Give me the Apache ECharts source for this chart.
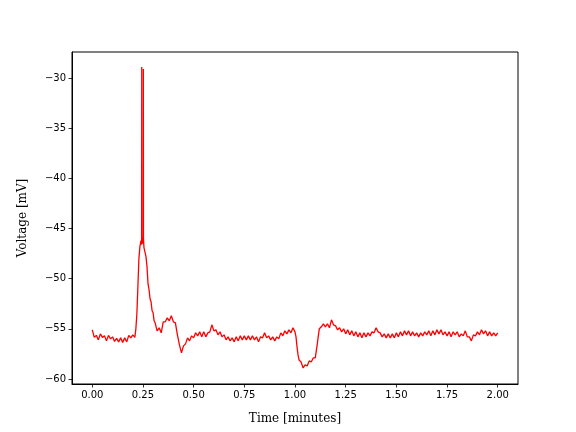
<!DOCTYPE html>
<html>
<head>
<meta charset="utf-8">
<script src="https://cdn.jsdelivr.net/npm/echarts@6/dist/echarts.min.js"></script>
<style>
html,body{margin:0;padding:0;background:#fff;}
#chart{width:576px;height:432px;}
</style>
</head>
<body>
<div id="chart"></div>
<script>
// Time in minutes
const timeMin = [
0.00,0.01,0.02,0.03,0.04,0.05,0.06,0.07,0.08,0.09,0.10,0.11,0.12,0.13,0.14,0.15,0.16,0.17,0.18,0.19,0.20,0.21,
0.215,0.22,0.225,0.23,0.235,0.24,0.2435,0.244,0.2445,0.248,0.2515,0.252,0.2525,0.255,0.26,0.265,0.27,0.275,0.28,0.285,0.29,0.295,0.30,0.305,0.31,
0.32,0.33,0.34,0.35,0.36,0.37,0.38,0.39,0.40,0.41,0.42,0.43,0.44,0.45,0.46,0.47,0.48,0.49,0.50,
0.51,0.52,0.53,0.54,0.55,0.56,0.57,0.58,0.59,0.60,0.61,0.62,0.63,0.64,0.65,0.66,0.67,0.68,0.69,0.70,
0.71,0.72,0.73,0.74,0.75,0.76,0.77,0.78,0.79,0.80,0.81,0.82,0.83,0.84,0.85,0.86,0.87,0.88,0.89,0.90,
0.91,0.92,0.93,0.94,0.95,0.96,0.97,0.98,0.99,1.00,1.005,1.01,1.015,1.02,1.03,1.04,1.05,1.06,1.07,1.08,1.09,1.10,
1.105,1.11,1.115,1.12,1.13,1.14,1.15,1.16,1.17,1.18,1.19,1.20,
1.21,1.22,1.23,1.24,1.25,1.26,1.27,1.28,1.29,1.30,1.31,1.32,1.33,1.34,1.35,1.36,1.37,1.38,1.39,1.40,
1.41,1.42,1.43,1.44,1.45,1.46,1.47,1.48,1.49,1.50,1.51,1.52,1.53,1.54,1.55,1.56,1.57,1.58,1.59,1.60,
1.61,1.62,1.63,1.64,1.65,1.66,1.67,1.68,1.69,1.70,1.71,1.72,1.73,1.74,1.75,1.76,1.77,1.78,1.79,1.80,
1.81,1.82,1.83,1.84,1.85,1.86,1.87,1.88,1.89,1.90,1.91,1.92,1.93,1.94,1.95,1.96,1.97,1.98,1.99,2.00
];
// Voltage in mV
const voltageMv = [
-55.1,-55.85,-55.65,-56.1,-55.5,-55.85,-55.7,-56.2,-55.65,-56.0,-55.8,-56.25,-55.95,-56.3,-55.9,-56.35,-55.9,-56.3,-55.65,-55.9,-55.6,-55.85,
-55.0,-53.5,-50.8,-48.0,-46.8,-46.2,-46.6,-28.9,-46.0,-46.5,-45.8,-29.1,-46.0,-46.9,-46.8,-47.8,-48.8,-50.5,-51.1,-52.0,-52.3,-53.2,-53.4,-54.2,-54.4,
-55.2,-54.9,-55.4,-54.3,-54.3,-53.9,-54.2,-53.7,-54.3,-54.4,-55.6,-56.6,-57.4,-56.7,-56.5,-55.9,-56.2,-55.7,-55.9,
-55.4,-55.7,-55.3,-55.8,-55.3,-55.8,-55.4,-55.3,-54.6,-55.2,-55.1,-55.6,-55.3,-55.8,-55.6,-56.1,-55.8,-56.2,-55.9,-56.3,
-55.8,-56.2,-55.7,-56.1,-55.7,-56.1,-55.7,-56.1,-55.7,-56.1,-55.8,-56.3,-55.8,-55.9,-55.4,-55.9,-55.7,-56.1,-55.8,-56.2,
-55.8,-56.0,-55.4,-55.7,-55.2,-55.5,-55.1,-55.4,-54.9,-55.3,-55.8,-56.8,-57.6,-58.1,-58.3,-58.9,-58.6,-58.7,-58.2,-58.3,-57.9,-57.9,
-57.2,-56.5,-55.7,-55.0,-54.8,-54.5,-54.8,-54.5,-54.9,-54.1,-54.6,-54.7,
-55.1,-54.9,-55.3,-55.0,-55.5,-55.1,-55.6,-55.2,-55.7,-55.3,-55.8,-55.4,-55.9,-55.4,-55.8,-55.4,-55.7,-55.3,-55.4,-54.9,
-55.3,-55.4,-55.8,-55.5,-55.9,-55.5,-55.9,-55.5,-55.9,-55.4,-55.8,-55.3,-55.7,-55.2,-55.6,-55.2,-55.7,-55.3,-55.7,-55.4,
-55.8,-55.4,-55.7,-55.3,-55.6,-55.2,-55.7,-55.2,-55.6,-55.1,-55.5,-55.1,-55.6,-55.3,-55.7,-55.3,-55.8,-55.3,-55.6,-55.3,
-55.8,-55.5,-55.7,-55.2,-55.8,-55.8,-56.2,-55.6,-55.7,-55.3,-55.6,-55.1,-55.5,-55.2,-55.7,-55.3,-55.7,-55.4,-55.7,-55.4
];
const xTicks = [0, 0.25, 0.5, 0.75, 1.0, 1.25, 1.5, 1.75, 2.0];
const yTicks = [-60, -55, -50, -45, -40, -35, -30];

const seriesData = timeMin.map((t, i) => [t, voltageMv[i]]);

const chart = echarts.init(document.getElementById('chart'), null, {renderer: 'canvas'});
const tickFont = {fontFamily: 'DejaVu Sans', fontSize: 10, color: '#000'};
chart.setOption({
  animation: false,
  backgroundColor: '#fff',
  grid: {left: 72, right: 58, top: 52, bottom: 48, show: true, borderColor: '#000', borderWidth: 1, backgroundColor: 'transparent'},
  xAxis: {
    type: 'value', min: -0.1, max: 2.1,
    name: 'Time [minutes]', nameLocation: 'middle', nameGap: 29,
    nameTextStyle: {fontFamily: 'DejaVu Serif', fontSize: 12, color: '#000'},
    axisLine: {show: true, onZero: false, lineStyle: {color: '#000', width: 1}},
    axisTick: {show: true, length: 3.5, inside: false, lineStyle: {color: '#000', width: 0.8}, customValues: xTicks},
    axisLabel: Object.assign({margin: 6, customValues: xTicks, formatter: v => v.toFixed(2)}, tickFont),
    splitLine: {show: false}
  },
  yAxis: {
    type: 'value', min: -60.5, max: -27.4,
    name: 'Voltage [mV]', nameLocation: 'middle', nameGap: 43,
    nameTextStyle: {fontFamily: 'DejaVu Serif', fontSize: 12, color: '#000'},
    axisLine: {show: true, onZero: false, lineStyle: {color: '#000', width: 1}},
    axisTick: {show: true, length: 3.5, inside: false, lineStyle: {color: '#000', width: 0.8}, customValues: yTicks},
    axisLabel: Object.assign({margin: 6, customValues: yTicks, formatter: v => (v < 0 ? '\u2212' + Math.abs(v) : String(v))}, tickFont),
    splitLine: {show: false}
  },
  series: [{
    type: 'line', data: seriesData, showSymbol: false, symbol: 'none',
    lineStyle: {color: '#ff0000', width: 1.3},
    clip: true
  }]
});
</script>
</body>
</html>
